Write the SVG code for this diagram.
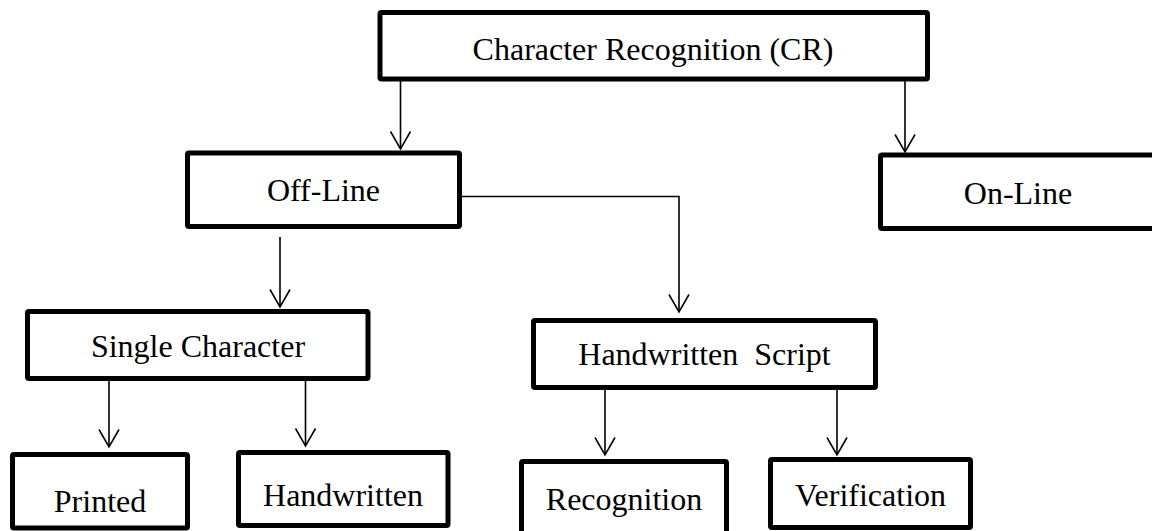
<svg xmlns="http://www.w3.org/2000/svg" width="1152" height="531" viewBox="0 0 1152 531">
  <defs>
    <style>
      .box { fill: #ffffff; stroke: #000000; stroke-width: 5; }
      .label { font-family: "Liberation Serif", "Times New Roman", serif; font-size: 32px; fill: #000000; text-anchor: middle; white-space: pre; }
      .link { fill: none; stroke: #000000; stroke-width: 1.6; marker-end: url(#arrow); }
    </style>
    <!-- open V-shaped arrowhead -->
    <marker id="arrow" viewBox="0 0 20 22" refX="18.5" refY="11" markerWidth="20" markerHeight="22" markerUnits="userSpaceOnUse" orient="auto">
      <path d="M1,1 L18.5,11 L1,21" fill="none" stroke="#000000" stroke-width="1.6"/>
    </marker>
  </defs>

  <rect width="1152" height="531" fill="#ffffff"/>

  <g id="connectors">
    <line class="link" x1="400.5" y1="81" x2="400.5" y2="149"/>
    <line class="link" x1="905" y1="81" x2="905" y2="152"/>
    <line class="link" x1="280" y1="237" x2="280" y2="307"/>
    <path class="link" d="M462,196.5 H679 V312"/>
    <line class="link" x1="109" y1="381" x2="109" y2="447"/>
    <line class="link" x1="305.5" y1="381" x2="305.5" y2="446"/>
    <line class="link" x1="605" y1="390" x2="605" y2="455"/>
    <line class="link" x1="837" y1="390" x2="837" y2="455"/>
  </g>

  <g id="node-cr">
    <rect class="box" x="380" y="12.5" width="547.5" height="66.5" rx="1.5"/>
    <text class="label" x="653" y="60">Character Recognition (CR)</text>
  </g>

  <g id="node-offline">
    <rect class="box" x="187.5" y="153" width="272" height="73.5" rx="1.5"/>
    <text class="label" x="323.5" y="200.5">Off-Line</text>
  </g>

  <g id="node-online">
    <rect class="box" x="880.5" y="155" width="290" height="73.5" rx="1.5"/>
    <text class="label" x="1018" y="204">On-Line</text>
  </g>

  <g id="node-single">
    <rect class="box" x="27.5" y="311.5" width="340.5" height="67" rx="1.5"/>
    <text class="label" x="198" y="356.5">Single Character</text>
  </g>

  <g id="node-script">
    <rect class="box" x="533.5" y="320.5" width="342" height="67" rx="1.5"/>
    <text class="label" x="704.5" y="365">Handwritten  Script</text>
  </g>

  <g id="node-printed">
    <rect class="box" x="12.5" y="454.5" width="175" height="73.5" rx="1.5"/>
    <text class="label" x="100" y="511.5">Printed</text>
  </g>

  <g id="node-handwritten">
    <rect class="box" x="238.5" y="452.5" width="209.5" height="73" rx="1.5"/>
    <text class="label" x="343" y="505.5">Handwritten</text>
  </g>

  <g id="node-recognition">
    <rect class="box" x="521.5" y="461.5" width="205" height="75" rx="1.5"/>
    <text class="label" x="624" y="510">Recognition</text>
  </g>

  <g id="node-verification">
    <rect class="box" x="770.5" y="459.5" width="200" height="68" rx="1.5"/>
    <text class="label" x="870.5" y="505.5">Verification</text>
  </g>
</svg>
